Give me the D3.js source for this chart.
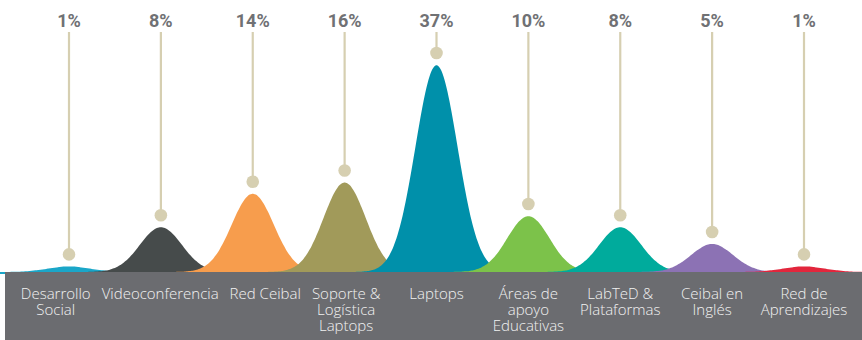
<!DOCTYPE html>
<html>
<head>
<meta charset="utf-8">
<script src="https://cdn.jsdelivr.net/npm/d3@7"></script>
<style>
  body { margin: 0; background: #fff; }
  svg { display: block; }
</style>
</head>
<body>
<div id="chart"></div>
<script>
  // data
  var categories = ["Desarrollo Social", "Videoconferencia", "Red Ceibal", "Soporte & Logística Laptops",
    "Laptops", "Áreas de apoyo Educativas", "LabTeD & Plataformas", "Ceibal en Inglés", "Red de Aprendizajes"];
  var labelLines = [["Desarrollo", "Social"], ["Videoconferencia"], ["Red Ceibal"], ["Soporte &", "Logística", "Laptops"],
    ["Laptops"], ["Áreas de", "apoyo", "Educativas"], ["LabTeD &", "Plataformas"], ["Ceibal en", "Inglés"], ["Red de", "Aprendizajes"]];
  var values = [1, 8, 14, 16, 37, 10, 8, 5, 1];
  var colors = ["#1aa6c8", "#464b4b", "#f79d4d", "#a19a5a", "#0090aa", "#7cc24a", "#00ab9c", "#8c72b4", "#e2263c"];

  var W = 862, H = 340;
  var base = 272;
  var bandLeft = 5;

  var svg = d3.select("#chart").append("svg")
    .attr("width", W)
    .attr("height", H);

  var x = d3.scalePoint()
    .domain(categories)
    .range([69, 804]);

  var y = d3.scaleLinear()
    .domain([0, 37])
    .range([base - 1, 64]);

  var sigma = 21;

  // bell shapes
  var area = d3.area()
    .x(function(d) { return d[0]; })
    .y0(base + 2)
    .y1(function(d) { return d[1]; })
    .curve(d3.curveBasis);

  categories.forEach(function(c, i) {
    var cx = x(c), h = (base - 1) - y(values[i]);
    var pts = [];
    for (var dx = -85; dx <= 85; dx += 2) {
      pts.push([cx + dx, base - h * Math.exp(-dx * dx / (2 * sigma * sigma))]);
    }
    svg.append("path")
      .attr("d", area(pts))
      .attr("fill", colors[i]);
  });

  // dark band
  svg.append("rect")
    .attr("x", bandLeft)
    .attr("y", base)
    .attr("width", W - bandLeft)
    .attr("height", H - base)
    .attr("fill", "#6b6c70");

  // pins
  var pins = svg.selectAll(".pin")
    .data(categories)
    .enter().append("g")
    .attr("class", "pin");

  pins.append("line")
    .attr("x1", function(d) { return x(d); })
    .attr("x2", function(d) { return x(d); })
    .attr("y1", 32)
    .attr("y2", function(d, i) { return y(values[i]) - 12; })
    .attr("stroke", "#d6cfb1")
    .attr("stroke-width", 2.2);

  pins.append("circle")
    .attr("cx", function(d) { return x(d); })
    .attr("cy", function(d, i) { return y(values[i]) - 11; })
    .attr("r", 6.3)
    .attr("fill", "#d6cfb1");

  pins.append("text")
    .attr("x", function(d) { return x(d); })
    .attr("y", 27)
    .attr("text-anchor", "middle")
    .style("font-family", "Roboto, 'Open Sans', sans-serif")
    .style("font-weight", "bold")
    .style("font-size", "18px")
    .attr("fill", "#707174")
    .text(function(d, i) { return values[i] + "%"; });

  // category labels in the band
  var labels = categories.map(function(c, i) {
    var t = svg.append("text")
      .attr("y", 299)
      .attr("text-anchor", "middle")
      .style("font-family", "'Open Sans', sans-serif")
      .style("font-weight", "300")
      .style("font-size", "15px")
      .attr("fill", "#f2f2f2");
    labelLines[i].forEach(function(s, k) {
      t.append("tspan")
        .attr("x", 0)
        .attr("dy", k === 0 ? 0 : 16)
        .text(s);
    });
    return { t: t, cx: x(c), hw: t.node().getBBox().width / 2 };
  });

  // push neighbouring labels apart so they don't collide
  var gap = 11;
  for (var it = 0; it < 60; it++) {
    for (var i = 1; i < labels.length; i++) {
      var a = labels[i - 1], b = labels[i];
      var over = (a.cx + a.hw + gap) - (b.cx - b.hw);
      if (over > 0) { a.cx -= over / 2; b.cx += over / 2; }
    }
    labels.forEach(function(l) {
      l.cx = Math.max(bandLeft + 9 + l.hw, Math.min(W - 9 - l.hw, l.cx));
    });
  }
  labels.forEach(function(l) {
    l.t.attr("x", l.cx).selectAll("tspan").attr("x", l.cx);
  });
</script>
</body>
</html>
